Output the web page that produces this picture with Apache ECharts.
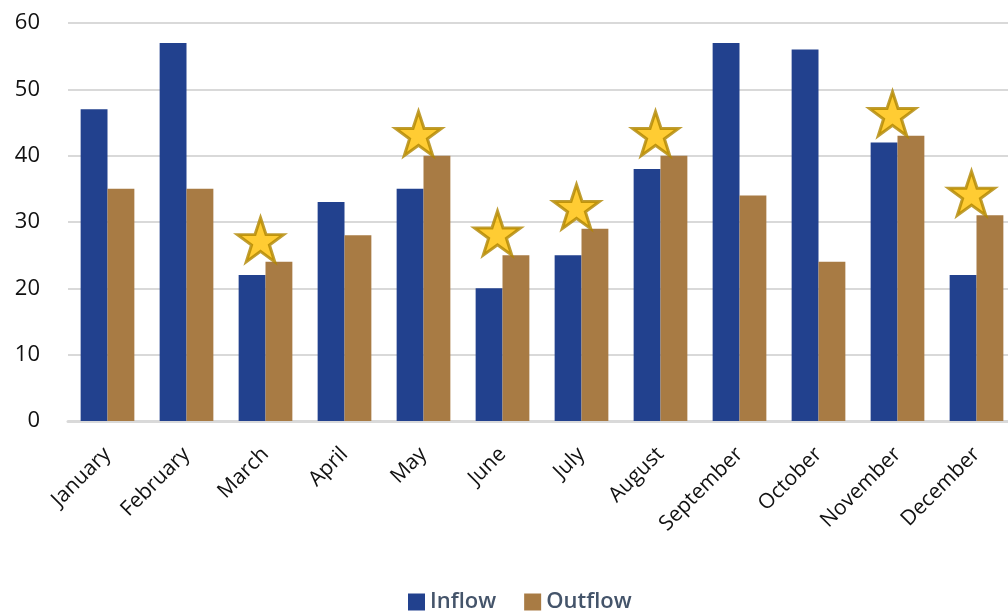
<!DOCTYPE html>
<html>
<head>
<meta charset="utf-8">
<script src="https://cdn.jsdelivr.net/npm/echarts@6/dist/echarts.min.js"></script>
<style>
html,body{margin:0;padding:0;background:#fff;}
#c{width:1008px;height:616px;}
</style>
</head>
<body>
<div id="c"></div>
<script>
var months = ['January','February','March','April','May','June','July','August','September','October','November','December'];
var inflow = [47, 57, 22, 33, 35, 20, 25, 38, 57, 56, 42, 22];
var outflow = [35, 35, 24, 28, 40, 25, 29, 40, 34, 24, 43, 31];
var yTicks = [0, 10, 20, 30, 40, 50, 60];

var starData = outflow.map(function (v, i) { return v > inflow[i] ? v : null; });
var starPath = 'path://M50,0 L61.8,35.4 L99,35.4 L69,57.3 L80.3,92.7 L50,70.8 L19.7,92.7 L31,57.3 L1,35.4 L38.2,35.4 Z';
var font = '"Open Sans", "Noto Sans", sans-serif';

var chart = echarts.init(document.getElementById('c'), null, {renderer: 'canvas'});
chart.setOption({
  animation: false,
  textStyle: {fontFamily: font},
  grid: {left: 68, width: 948, top: 23, bottom: 195, containLabel: false, outerBoundsMode: 'none'},
  legend: {
    data: ['Inflow', 'Outflow'],
    bottom: -2,
    left: 403,
    itemWidth: 17,
    itemHeight: 17,
    itemGap: 28,
    icon: 'rect',
    textStyle: {fontFamily: font, fontSize: 22, fontWeight: 600, color: '#44546A', padding: [0, 0, 0, 0]}
  },
  xAxis: {
    type: 'category',
    data: months,
    axisTick: {show: false},
    axisLine: {show: true, lineStyle: {color: '#D9D9D9', width: 3}},
    axisLabel: {rotate: 45, margin: 30, fontSize: 21, color: '#111', fontFamily: font, interval: 0}
  },
  yAxis: {
    type: 'value',
    min: yTicks[0],
    max: yTicks[yTicks.length - 1],
    interval: 10,
    axisLine: {show: false},
    axisTick: {show: false},
    splitLine: {lineStyle: {color: '#D9D9D9', width: 2}},
    axisLabel: {margin: 28, fontSize: 22, color: '#111', fontFamily: font}
  },
  series: [
    {
      name: 'Inflow', type: 'bar', data: inflow,
      barGap: '0%', barCategoryGap: '32%',
      itemStyle: {color: '#22418E'}
    },
    {
      name: 'Outflow', type: 'bar', data: outflow,
      barGap: '0%', barCategoryGap: '32%',
      itemStyle: {color: '#A87B44'}
    },
    {
      name: 'Star', type: 'scatter', data: starData,
      symbol: starPath, symbolSize: [46, 44], symbolOffset: [-5, -22],
      itemStyle: {color: '#FFBF00', borderColor: '#B08600', borderWidth: 3},
      z: 5, silent: true
    }
  ]
});
</script>
</body>
</html>
